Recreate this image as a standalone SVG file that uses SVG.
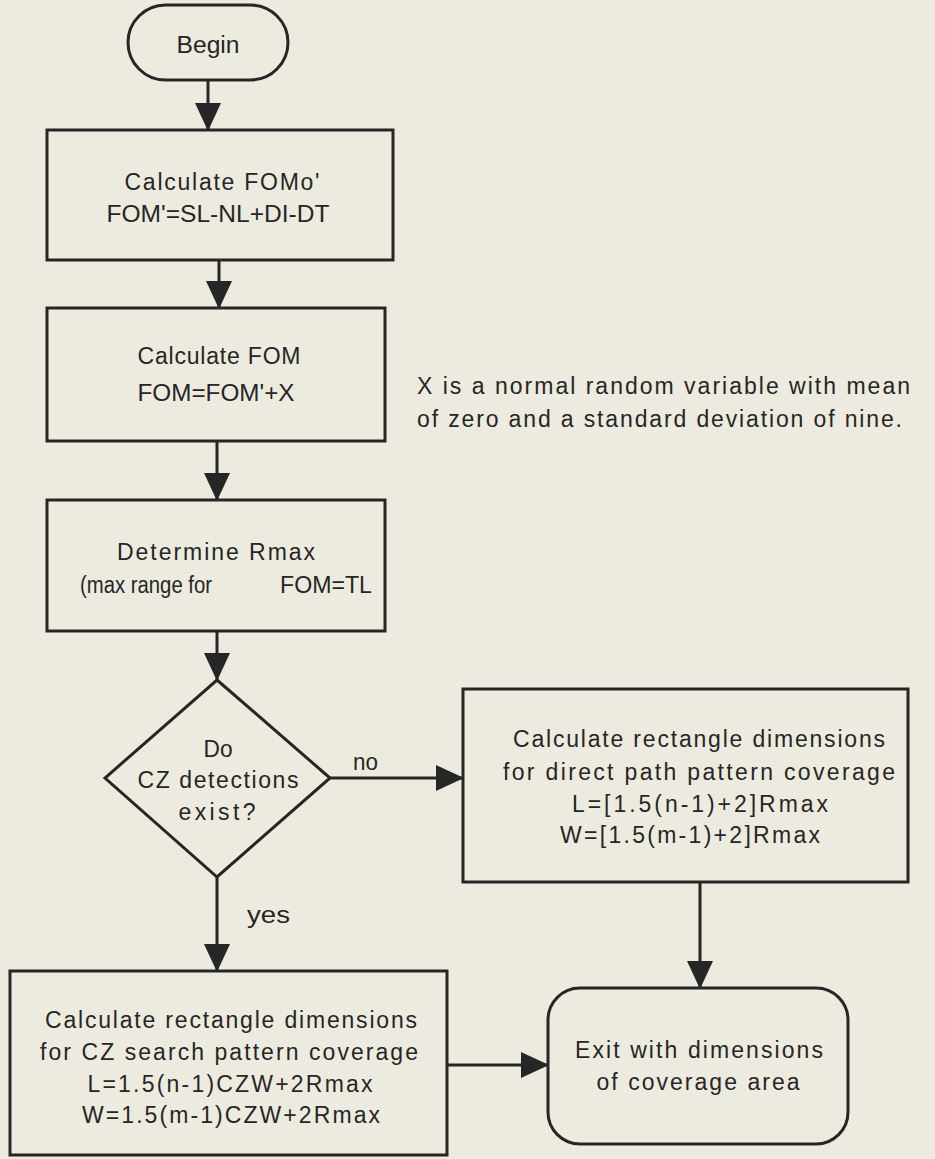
<svg xmlns="http://www.w3.org/2000/svg" width="935" height="1159" viewBox="0 0 935 1159">
  <style>
    .shape { fill: none; stroke: #262626; stroke-width: 3; }
    .line { fill: none; stroke: #262626; stroke-width: 3; }
    text { font-family: "Liberation Sans", Arial, Helvetica, sans-serif; font-size: 23px; fill: #262626; }
    .c { text-anchor: middle; }
  </style>
  <defs>
    <marker id="arrow" viewBox="0 0 28 26" refX="27" refY="13" markerWidth="28" markerHeight="26" markerUnits="userSpaceOnUse" orient="auto">
      <path d="M0,0 L28,13 L0,26 Z" fill="#262626"/>
    </marker>
  </defs>
  <rect width="935" height="1159" fill="#edebdf"/>

  <!-- connectors -->
  <g id="connectors">
    <line class="line" x1="208" y1="80" x2="208" y2="130" marker-end="url(#arrow)"/>
    <line class="line" x1="219" y1="260" x2="219" y2="308" marker-end="url(#arrow)"/>
    <line class="line" x1="217" y1="441" x2="217" y2="500" marker-end="url(#arrow)"/>
    <line class="line" x1="217" y1="631" x2="217" y2="680" marker-end="url(#arrow)"/>
    <line class="line" x1="330" y1="778" x2="463" y2="778" marker-end="url(#arrow)"/>
    <line class="line" x1="217" y1="877" x2="217" y2="971" marker-end="url(#arrow)"/>
    <line class="line" x1="700" y1="882" x2="700" y2="988" marker-end="url(#arrow)"/>
    <line class="line" x1="447" y1="1065" x2="548" y2="1065" marker-end="url(#arrow)"/>
    <text x="353" y="770" textLength="25" lengthAdjust="spacingAndGlyphs">no</text>
    <text x="247" y="923" textLength="43" lengthAdjust="spacingAndGlyphs">yes</text>
  </g>

  <!-- start terminal -->
  <g id="begin">
    <rect class="shape" x="128" y="5" width="160" height="75" rx="37.5"/>
    <text class="c" x="208" y="53" textLength="63" lengthAdjust="spacingAndGlyphs">Begin</text>
  </g>

  <g id="calc-fom-prime">
    <rect class="shape" x="47" y="130" width="346" height="130"/>
    <text class="c" x="222" y="190" textLength="195">Calculate FOMo'</text>
    <text class="c" x="218" y="222" textLength="223" lengthAdjust="spacingAndGlyphs">FOM'=SL-NL+DI-DT</text>
  </g>

  <g id="calc-fom">
    <rect class="shape" x="47" y="308" width="338" height="133"/>
    <text class="c" x="219" y="364" textLength="163">Calculate FOM</text>
    <text class="c" x="216" y="401" textLength="157" lengthAdjust="spacingAndGlyphs">FOM=FOM'+X</text>
  </g>

  <g id="note">
    <text x="417" y="394" textLength="493">X is a normal random variable with mean</text>
    <text x="417" y="427" textLength="485">of zero and a standard deviation of nine.</text>
  </g>

  <g id="determine-rmax">
    <rect class="shape" x="47" y="500" width="338" height="131"/>
    <text class="c" x="216" y="560" textLength="198">Determine Rmax</text>
    <text x="212" y="593" text-anchor="end" textLength="132" lengthAdjust="spacingAndGlyphs">(max range for</text>
    <text x="280" y="593" textLength="92" lengthAdjust="spacingAndGlyphs">FOM=TL</text>
  </g>

  <g id="cz-decision">
    <polygon class="shape" points="217,680 330,778 217,877 105,778"/>
    <text class="c" x="218" y="757" textLength="29" lengthAdjust="spacingAndGlyphs">Do</text>
    <text class="c" x="218" y="788" textLength="161">CZ detections</text>
    <text class="c" x="217" y="820" textLength="77">exist?</text>
  </g>

  <g id="direct-path">
    <rect class="shape" x="463" y="689" width="445" height="193"/>
    <text class="c" x="699" y="747" textLength="372">Calculate rectangle dimensions</text>
    <text class="c" x="699" y="780" textLength="392">for direct path pattern coverage</text>
    <text class="c" x="700" y="812" textLength="256">L=[1.5(n-1)+2]Rmax</text>
    <text class="c" x="690" y="843" textLength="260">W=[1.5(m-1)+2]Rmax</text>
  </g>

  <g id="cz-search">
    <rect class="shape" x="10" y="971" width="437" height="184"/>
    <text class="c" x="231" y="1028" textLength="372">Calculate rectangle dimensions</text>
    <text class="c" x="229" y="1060" textLength="378">for CZ search pattern coverage</text>
    <text class="c" x="230" y="1092" textLength="285">L=1.5(n-1)CZW+2Rmax</text>
    <text class="c" x="231" y="1123" textLength="298">W=1.5(m-1)CZW+2Rmax</text>
  </g>

  <!-- end terminal -->
  <g id="exit">
    <rect class="shape" x="548" y="988" width="300" height="156" rx="32"/>
    <text class="c" x="699" y="1058" textLength="248">Exit with dimensions</text>
    <text class="c" x="698" y="1090" textLength="203">of coverage area</text>
  </g>
</svg>
